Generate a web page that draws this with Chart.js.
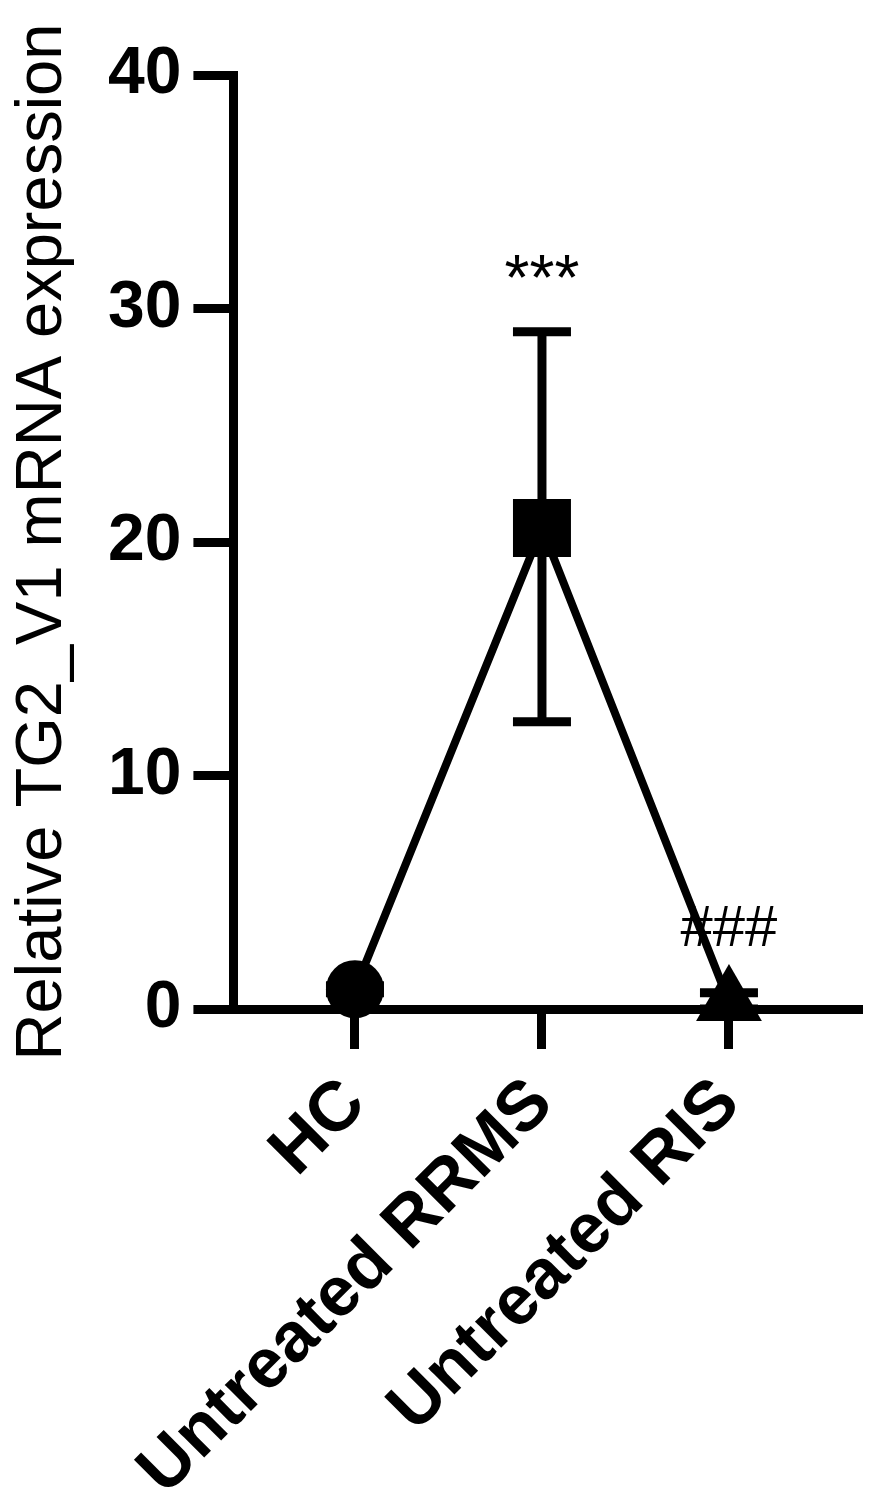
<!DOCTYPE html>
<html>
<head>
<meta charset="utf-8">
<script src="https://cdn.jsdelivr.net/npm/chart.js"></script>
<style>
  html, body { margin: 0; padding: 0; background: #fff; }
  #wrap { width: 872px; height: 1509px; }
</style>
</head>
<body>
<div id="wrap"><canvas id="c"></canvas></div>
<script>
// data
const groups = ['HC', 'Untreated RRMS', 'Untreated RIS'];
const means = [0.85, 20.6, 0.3];
const errUpper = [1.0, 29.0, 0.7];
const errLower = [0.7, 12.3, 0];
const markers = ['circle', 'rect', 'triangle'];
const yTicks = [0, 10, 20, 30, 40];
const sigMarks = ['', '***', '###'];
const sigLevels = [null, 31.1, 3.4];

const FONT = '"Liberation Sans", Arial, sans-serif';

// error bars behind the markers, significance marks on top
const errorBars = {
    id: 'errorBars',
    beforeDatasetsDraw(chart) {
        const { ctx, scales: { x, y } } = chart;
        ctx.save();
        ctx.strokeStyle = '#000';
        ctx.lineWidth = 9;
        groups.forEach((g, i) => {
            const px = x.getPixelForValue(i);
            const top = y.getPixelForValue(errUpper[i]);
            const bot = y.getPixelForValue(errLower[i]);
            ctx.beginPath();
            ctx.moveTo(px, top); ctx.lineTo(px, bot);
            ctx.moveTo(px - 29, top); ctx.lineTo(px + 29, top);
            ctx.moveTo(px - 29, bot); ctx.lineTo(px + 29, bot);
            ctx.stroke();
        });
        ctx.restore();
    },
    afterDatasetsDraw(chart) {
        const { ctx, scales: { x, y } } = chart;
        ctx.save();
        ctx.fillStyle = '#000';
        ctx.textAlign = 'center';
        ctx.textBaseline = 'middle';
        sigMarks.forEach((m, i) => {
            if (!m) return;
            ctx.font = (m === '***' ? '64px ' : '58px ') + FONT;
            ctx.fillText(m, x.getPixelForValue(i), y.getPixelForValue(sigLevels[i]));
        });
        ctx.restore();
    }
};

new Chart(document.getElementById('c').getContext('2d'), {
    type: 'line',
    data: {
        datasets: [{
            data: means.map((v, i) => ({ x: i, y: v })),
            borderColor: '#000',
            borderWidth: 8,
            backgroundColor: '#000',
            pointStyle: markers,
            pointRadius: [29, 41, 38],
            pointBorderWidth: 0,
            pointBackgroundColor: '#000',
            clip: false
        }]
    },
    options: {
        responsive: true,
        maintainAspectRatio: false,
        animation: false,
        layout: { autoPadding: false, padding: { top: 75, right: 14, left: 0, bottom: 0 } },
        plugins: {
            legend: { display: false },
            tooltip: { enabled: false }
        },
        scales: {
            x: {
                type: 'linear',
                min: -0.65,
                max: 2.69,
                afterBuildTicks: (s) => { s.ticks = groups.map((g, i) => ({ value: i })); },
                afterFit: (s) => { s.paddingRight = 0; s.paddingLeft = 0; s.height = 500; },
                ticks: {
                    color: '#000',
                    minRotation: 45,
                    maxRotation: 45,
                    padding: 14,
                    font: { family: FONT, size: 70, weight: 'bold' },
                    callback: (v) => groups[v] ?? ''
                },
                grid: { drawOnChartArea: false, color: '#000', lineWidth: 9, tickLength: 40 },
                border: { color: '#000', width: 9 }
            },
            y: {
                min: 0,
                max: 40,
                afterBuildTicks: (s) => { s.ticks = yTicks.map(v => ({ value: v })); },
                ticks: {
                    color: '#000',
                    padding: 12,
                    font: { family: FONT, size: 66, weight: 'bold' }
                },
                grid: { drawOnChartArea: false, color: '#000', lineWidth: 9, tickLength: 40 },
                border: { color: '#000', width: 9 },
                title: {
                    display: true,
                    text: 'Relative TG2_V1 mRNA expression',
                    color: '#000',
                    padding: { top: 4, bottom: 14 },
                    font: { family: FONT, size: 65 }
                }
            }
        }
    },
    plugins: [errorBars]
});
</script>
</body>
</html>
